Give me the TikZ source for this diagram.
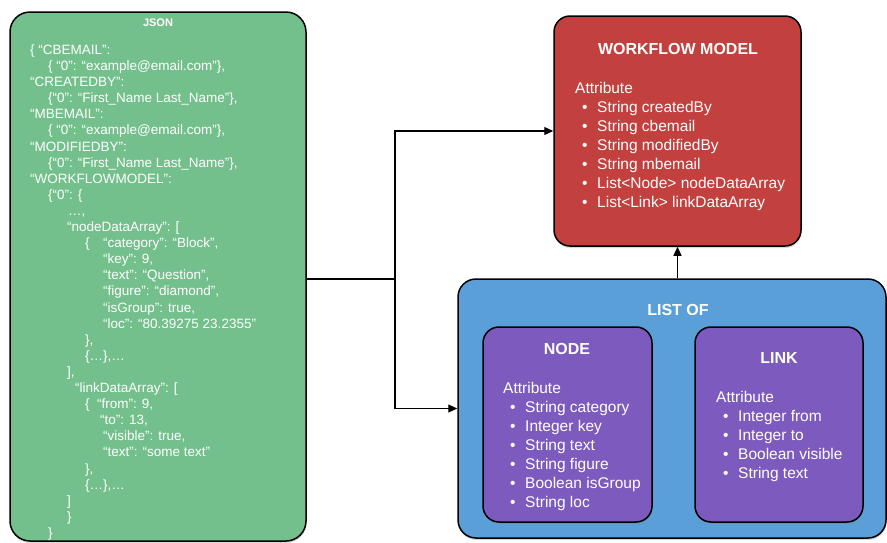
\documentclass[tikz,border=0pt]{standalone}
\usepackage{fontspec}
\setmainfont{Liberation Sans}
\usepackage{tikz}
\usetikzlibrary{positioning, arrows.meta, shadows}

\definecolor{jsongreen}{RGB}{116,192,140}
\definecolor{modelred}{RGB}{194,64,61}
\definecolor{listblue}{RGB}{90,159,216}
\definecolor{itempurple}{RGB}{125,91,190}

% one bullet line of an attribute list
\newcommand{\attr}[1]{\\\hspace*{7pt}\makebox[15pt][l]{\textbullet}#1}

\begin{document}
\begin{tikzpicture}[x=1pt, y=-1pt,
  box/.style={draw=black, line width=1.5pt, rounded corners=16pt,
    drop shadow={opacity=0.3, shadow xshift=0.5pt, shadow yshift=-2pt}},
  title/.style={text=white, font=\bfseries\fontsize{16}{19}\selectfont},
  attrlist/.style={text=white, align=left, anchor=north west, inner sep=0pt,
    font=\fontsize{15.5}{19}\selectfont},
  jsontext/.style={text=white, align=left, anchor=north west, inner sep=0pt,
    font=\fontsize{13.5}{16.1}\selectfont},
  conn/.style={line width=1.2pt, -{Triangle[length=9pt, width=8pt]}}]
  \useasboundingbox (0,0) rectangle (887,542);

  % Boxes
  \node[box, rounded corners=20pt, fill=jsongreen, minimum width=296pt, minimum height=529pt] (json) at (158,276.5) {};
  \node[box, fill=modelred, minimum width=247pt, minimum height=230pt] (workflow) at (677.5,131) {};
  \node[box, rounded corners=18pt, fill=listblue, minimum width=428pt, minimum height=259pt] (listof) at (672,408.5) {};
  \node[box, fill=itempurple, minimum width=169pt, minimum height=195pt] (nodebox) at (567.5,424.5) {};
  \node[box, fill=itempurple, minimum width=168pt, minimum height=195pt] (linkbox) at (779,424.5) {};

  % JSON content
  \node[text=white, font=\bfseries\fontsize{11}{13}\selectfont] (jsontitle) at (158,22.5) {JSON};
  \node[jsontext] (jsonbody) at (30,44.5) {%
    \{ “CBEMAIL”:\\
    \hspace*{18pt}\{ “0”: “example@email.com”\},\\
    “CREATEDBY”:\\
    \hspace*{18pt}\{“0”: “First\_Name Last\_Name”\},\\
    “MBEMAIL”:\\
    \hspace*{18pt}\{ “0”: “example@email.com”\},\\
    “MODIFIEDBY”:\\
    \hspace*{18pt}\{“0”: “First\_Name Last\_Name”\},\\
    “WORKFLOWMODEL”:\\
    \hspace*{18pt}\{“0”: \{\\
    \hspace*{38pt}…,\\
    \hspace*{37pt}“nodeDataArray”: [\\
    \hspace*{55pt}\{\hspace*{13.5pt}“category”: “Block”,\\
    \hspace*{73pt}“key”: 9,\\
    \hspace*{73pt}“text”: “Question”,\\
    \hspace*{73pt}“figure”: “diamond”,\\
    \hspace*{73pt}“isGroup”: true,\\
    \hspace*{73pt}“loc”: “80.39275 23.2355”\\
    \hspace*{55pt}\},\\
    \hspace*{55pt}\{…\},…\\
    \hspace*{37pt}],\\
    \hspace*{45pt}“linkDataArray”: [\\
    \hspace*{55pt}\{\hspace*{7.5pt}“from”: 9,\\
    \hspace*{70pt}“to”: 13,\\
    \hspace*{73pt}“visible”: true,\\
    \hspace*{73pt}“text”: “some text”\\
    \hspace*{55pt}\},\\
    \hspace*{55pt}\{…\},…\\
    \hspace*{37pt}]\\
    \hspace*{37pt}\}\\
    \hspace*{18pt}\}};

  % Workflow model
  \node[title] (wftitle) at (678,48.5) {WORKFLOW MODEL};
  \node[attrlist] (wfattr) at (575,82) {Attribute\attr{String createdBy}\attr{String cbemail}%
    \attr{String modifiedBy}\attr{String mbemail}\attr{List<Node> nodeDataArray}\attr{List<Link> linkDataArray}};

  % List of node / link
  \node[title] (listtitle) at (678,310) {LIST OF};
  \node[title] (nodetitle) at (567,349) {NODE};
  \node[attrlist] (nodeattr) at (503,382) {Attribute\attr{String category}\attr{Integer key}%
    \attr{String text}\attr{String figure}\attr{Boolean isGroup}\attr{String loc}};
  \node[title] (linktitle) at (779,358) {LINK};
  \node[attrlist] (linkattr) at (716,391) {Attribute\attr{Integer from}\attr{Integer to}%
    \attr{Boolean visible}\attr{String text}};

  % Connectors
  \coordinate (split) at (395,279);
  \draw[line width=1.2pt] (json.east |- split) -- (split);
  \draw[conn] (split) |- (workflow.west);
  \draw[conn] (split) |- (listof.west);
  \draw[conn] (workflow.south |- listof.north) -- (workflow.south);
\end{tikzpicture}
\end{document}
